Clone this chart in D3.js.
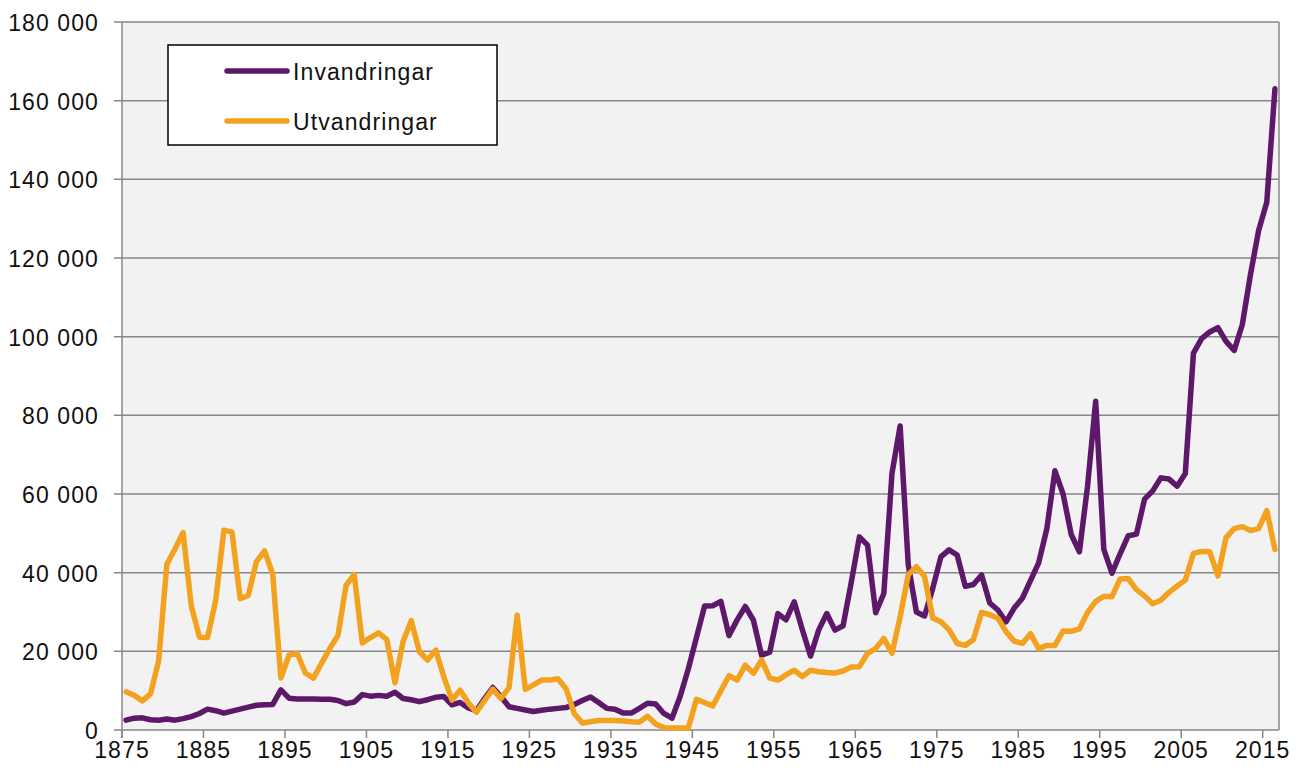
<!DOCTYPE html>
<html>
<head>
<meta charset="utf-8">
<script src="https://cdn.jsdelivr.net/npm/d3@7"></script>
<style>
    body { margin: 0; background: #fff; }
    text { font-family: "Liberation Sans", Arial, sans-serif; fill: #111; }
</style>
</head>
<body>
<script>
// ================= DATA =================
const firstYear = 1875
const lastYear = 2016
const years = d3.range(firstYear, lastYear + 1)

const invandringar = [
    2500, 3000, 3100, 2600, 2500, 2800, 2500, 2900, 3400, 4200,      // 1875-1884
    5300, 4900, 4300, 4800, 5300, 5800, 6300, 6400, 6500, 10200,     // 1885-1894
    8100, 7900, 7900, 7900, 7800, 7800, 7500, 6700, 7100, 9000,      // 1895-1904
    8600, 8800, 8600, 9600, 8000, 7700, 7200, 7700, 8300, 8500,      // 1905-1914
    6400, 7000, 5600, 4900, 8000, 10800, 8500, 5900, 5500, 5100,     // 1915-1924
    4700, 5000, 5300, 5500, 5700, 6500, 7500, 8400, 7000, 5500,      // 1925-1934
    5300, 4300, 4300, 5500, 6800, 6600, 4200, 3000, 8500, 15500,     // 1935-1944
    23500, 31500, 31600, 32700, 24000, 28000, 31400, 27900, 19000, 19800, // 1945-1954
    29600, 28000, 32600, 25500, 18800, 25400, 29600, 25400, 26500, 37500, // 1955-1964
    49100, 47000, 29800, 34700, 65200, 77300, 42000, 30000, 29000, 36000, // 1965-1974
    44000, 45800, 44500, 36500, 37000, 39400, 32300, 30500, 27500, 31000, // 1975-1984
    33500, 38000, 42500, 51100, 65900, 60000, 49700, 45300, 61900, 83600, // 1985-1994
    45900, 39900, 44800, 49400, 49800, 58700, 60800, 64100, 63800, 62000, // 1995-2004
    65200, 95800, 99500, 101200, 102300, 98800, 96500, 103100, 115800, 127000, // 2005-2014
    134200, 163000                                                    // 2015-2016
]

const utvandringar = [
    9700, 8800, 7400, 9200, 17600, 42100, 46000, 50200, 31600, 23600, // 1875-1884
    23500, 32900, 50800, 50300, 33400, 34200, 42800, 45500, 39600, 13200, // 1885-1894
    19000, 19500, 14500, 13200, 17000, 20700, 24000, 36800, 39500, 22100, // 1895-1904
    23500, 24700, 23000, 12000, 22500, 27800, 19900, 17800, 20300, 13500, // 1905-1914
    7600, 10100, 6900, 4500, 7500, 10400, 8000, 10800, 29200, 10300,  // 1915-1924
    11500, 12700, 12700, 13000, 10500, 4200, 1800, 2100, 2400, 2400,  // 1925-1934
    2400, 2300, 2100, 2000, 3500, 1500, 600, 500, 500, 500,           // 1935-1944
    7800, 7000, 6100, 10000, 13800, 12700, 16500, 14400, 17800, 13200, // 1945-1954
    12700, 14000, 15200, 13600, 15200, 14800, 14600, 14500, 15000, 16000, // 1955-1964
    16100, 19500, 20700, 23300, 19500, 28700, 39500, 41500, 39000, 28500, // 1965-1974
    27500, 25500, 22000, 21500, 23000, 29900, 29300, 28400, 25000, 22600, // 1975-1984
    22000, 24500, 20700, 21500, 21500, 25200, 25100, 25700, 29900, 32700, // 1985-1994
    34000, 33900, 38400, 38500, 35700, 34100, 32100, 33000, 35000, 36600, // 1995-2004
    38100, 44900, 45400, 45300, 39200, 48900, 51200, 51700, 50700, 51200, // 2005-2014
    55800, 45900                                                      // 2015-2016
]

const yTicks = [0, 20000, 40000, 60000, 80000, 100000, 120000, 140000, 160000, 180000]
const xTicks = [1875, 1885, 1895, 1905, 1915, 1925, 1935, 1945, 1955, 1965, 1975, 1985, 1995, 2005, 2015]

const seriesNames = ['Invandringar', 'Utvandringar']
const seriesColors = ['#5d1869', '#f2a21f']

// ================= SETUP =================
const width = 1306,
    height = 774
const plot = {
    left: 122,
    right: 1279,
    top: 22,
    bottom: 730
}

const svg = d3.select('body').append('svg')
    .attr('width', width)
    .attr('height', height)

// one band per year, points sit in the middle of their band,
// tick marks on the band edges (like a category axis)
const x = d3.scaleBand()
    .domain(years)
    .range([plot.left, plot.right])
    .padding(0)
const xMid = d => x(d) + x.bandwidth() / 2

const y = d3.scaleLinear()
    .domain([0, 180000])
    .range([plot.bottom, plot.top])

const swe = d3.formatLocale({ decimal: ',', thousands: ' ', grouping: [3], currency: ['', ''] })
const fmt = swe.format(',')

const gridColor = '#878787'

// plot background
svg.append('rect')
    .attr('x', plot.left)
    .attr('y', plot.top)
    .attr('width', plot.right - plot.left)
    .attr('height', plot.bottom - plot.top)
    .attr('fill', '#f2f2f2')

// gridlines (with the small tick to the left)
svg.append('g')
    .selectAll('line')
    .data(yTicks)
    .enter().append('line')
    .attr('x1', plot.left - 8)
    .attr('x2', plot.right)
    .attr('y1', d => y(d))
    .attr('y2', d => y(d))
    .attr('stroke', gridColor)
    .attr('stroke-width', 1.5)

// left + right border
svg.append('line')
    .attr('x1', plot.left).attr('x2', plot.left)
    .attr('y1', plot.top).attr('y2', plot.bottom + 8)
    .attr('stroke', gridColor).attr('stroke-width', 1.5)
svg.append('line')
    .attr('x1', plot.right).attr('x2', plot.right)
    .attr('y1', plot.top).attr('y2', plot.bottom)
    .attr('stroke', gridColor).attr('stroke-width', 1.5)

// x ticks
svg.append('g')
    .selectAll('line')
    .data(xTicks)
    .enter().append('line')
    .attr('x1', d => x(d))
    .attr('x2', d => x(d))
    .attr('y1', plot.bottom)
    .attr('y2', plot.bottom + 8)
    .attr('stroke', gridColor)
    .attr('stroke-width', 1.5)

// y labels
svg.append('g')
    .selectAll('text')
    .data(yTicks)
    .enter().append('text')
    .attr('x', 99)
    .attr('y', d => y(d) + 1)
    .attr('text-anchor', 'end')
    .attr('dominant-baseline', 'central')
    .style('font-size', '23px')
    .style('letter-spacing', '1.1px')
    .text(d => fmt(d))

// x labels
svg.append('g')
    .selectAll('text')
    .data(xTicks)
    .enter().append('text')
    .attr('x', d => x(d))
    .attr('y', 758)
    .attr('text-anchor', 'middle')
    .style('font-size', '23px')
    .style('letter-spacing', '1.1px')
    .text(d => d)

// ================= LINES =================
const line = d3.line()
    .x(d => xMid(d.year))
    .y(d => y(d.value))

const series = [invandringar, utvandringar].map((vals, i) => ({
    name: seriesNames[i],
    color: seriesColors[i],
    values: vals.map((v, j) => ({ year: years[j], value: v }))
}))

svg.append('g')
    .selectAll('path')
    .data(series)
    .enter().append('path')
    .attr('d', d => line(d.values))
    .attr('fill', 'none')
    .attr('stroke', d => d.color)
    .attr('stroke-width', 5.5)
    .attr('stroke-linejoin', 'round')
    .attr('stroke-linecap', 'round')

// ================= LEGEND =================
const legend = svg.append('g')

legend.append('rect')
    .attr('x', 168)
    .attr('y', 45)
    .attr('width', 329)
    .attr('height', 100)
    .attr('fill', '#fff')
    .attr('stroke', '#000')
    .attr('stroke-width', 1.5)

const items = legend.selectAll('g')
    .data(series)
    .enter().append('g')
    .attr('transform', (d, i) => 'translate(0,' + (71 + i * 50) + ')')

items.append('line')
    .attr('x1', 227)
    .attr('x2', 287)
    .attr('stroke', d => d.color)
    .attr('stroke-width', 5.5)
    .attr('stroke-linecap', 'round')

items.append('text')
    .attr('x', 293)
    .attr('y', 1)
    .attr('dominant-baseline', 'central')
    .style('font-size', '23px')
    .style('letter-spacing', '1.1px')
    .text(d => d.name)
</script>
</body>
</html>
